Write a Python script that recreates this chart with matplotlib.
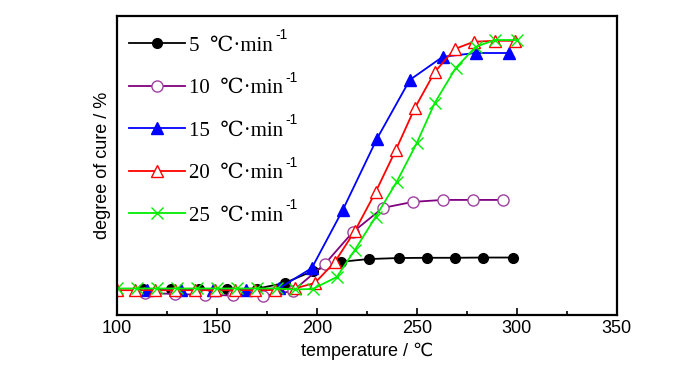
import matplotlib
matplotlib.use("Agg")
import matplotlib.pyplot as plt
from matplotlib.ticker import MultipleLocator

# 5 C/min
t5 = [113, 127, 141, 155, 170, 184, 198, 212, 226, 241, 255, 269, 283, 298]
a5 = [0.8, 0.8, 0.8, 0.8, 0.9, 3.2, 8.0, 11.7, 12.8, 13.2, 13.3, 13.3, 13.4, 13.4]
# 10 C/min
t10 = [114, 129, 144, 158, 173, 188, 204, 218, 233, 248, 263, 278, 293]
a10 = [-0.8, -1.2, -1.6, -1.8, -2.0, 0.0, 10.8, 23.6, 33.3, 35.7, 36.5, 36.5, 36.5]
# 15 C/min
t15 = [115, 132, 148, 164.5, 181, 197.5, 213, 230, 246.5, 263, 279.5, 296]
a15 = [0.5, 0.5, 0.5, 0.5, 1.0, 9.2, 32.5, 60.9, 84.6, 93.9, 95.4, 95.4]
# 20 C/min
t20 = [100, 109, 119, 129, 139, 149, 159, 169, 179, 189, 199, 209, 219, 229.5,
       239.5, 249, 259, 269, 278.5, 289, 299]
a20 = [0.3, 0.3, 0.3, 0.3, 0.3, 0.3, 0.3, 0.3, 0.4, 1.0, 3.2, 11.6, 24.0, 39.8,
       56.5, 73.3, 87.8, 97.0, 99.9, 100.3, 100.3]
# 25 C/min
t25 = [100, 110, 120, 130, 140, 150, 160, 170, 180, 189, 198, 210, 219, 229.5,
       240, 250, 259, 269.5, 279.5, 289, 300]
a25 = [1.0, 1.0, 1.0, 1.0, 1.0, 1.0, 1.0, 1.0, 1.0, 0.6, 0.8, 5.6, 16.4, 29.8,
       43.8, 59.3, 75.4, 89.4, 97.9, 100.6, 100.6]

rates = ['5', '10', '15', '20', '25']
labels = [r + '  \u2103\u00b7min' for r in rates]

fig = plt.figure(figsize=(7, 3.74), dpi=100)
ax = fig.add_axes([0.167, 0.158, 0.714, 0.799])

ax.plot(t5, a5, '-o', color='black', lw=1.3, ms=7, label=labels[0])
ax.plot(t10, a10, '-o', color='#800080', mfc='white', mec='#a040a0', lw=1.3, ms=8, label=labels[1])
ax.plot(t15, a15, '-^', color='blue', lw=1.3, ms=8, label=labels[2])
ax.plot(t20, a20, '-^', color='red', mfc='white', mec='red', lw=1.3, ms=8, label=labels[3])
ax.plot(t25, a25, '-x', color='#00ee00', lw=1.3, ms=8, label=labels[4])

ax.set_xlim(100, 350)
ax.set_ylim(-9.6, 110.2)
ax.xaxis.set_major_locator(MultipleLocator(50))
ax.xaxis.set_minor_locator(MultipleLocator(25))
ax.tick_params(axis='x', which='both', direction='in', top=False, labelsize=13)
ax.tick_params(axis='x', which='major', length=5, width=1.2)
ax.tick_params(axis='x', which='minor', length=3, width=1.2)
ax.set_yticks([])
for lab in ax.get_xticklabels():
    lab.set_family('Liberation Sans')
for s in ax.spines.values():
    s.set_linewidth(1.6)

ax.set_xlabel('temperature / \u2103', fontsize=13, family=['Liberation Sans', 'DejaVu Sans'])
ax.set_ylabel('degree of cure / %', fontsize=13, family=['Liberation Sans', 'DejaVu Sans'])

leg = ax.legend(loc='upper left', bbox_to_anchor=(-0.0155, 1.0), frameon=False,
                numpoints=1, handlelength=2.7, handletextpad=0.2, labelspacing=1.1,
                borderaxespad=0.55,
                prop={'family': ['Liberation Serif', 'DejaVu Serif'], 'size': 15})

# superscript "-1" after each legend label
fig.canvas.draw()
for txt in leg.get_texts():
    bb = txt.get_window_extent()
    fig.text((bb.x1 + 2) / fig.bbox.width, (bb.y1 - 6) / fig.bbox.height, '-1',
             fontsize=10, family='Liberation Sans', va='bottom', ha='left')

fig.savefig('out.png', dpi=100)
